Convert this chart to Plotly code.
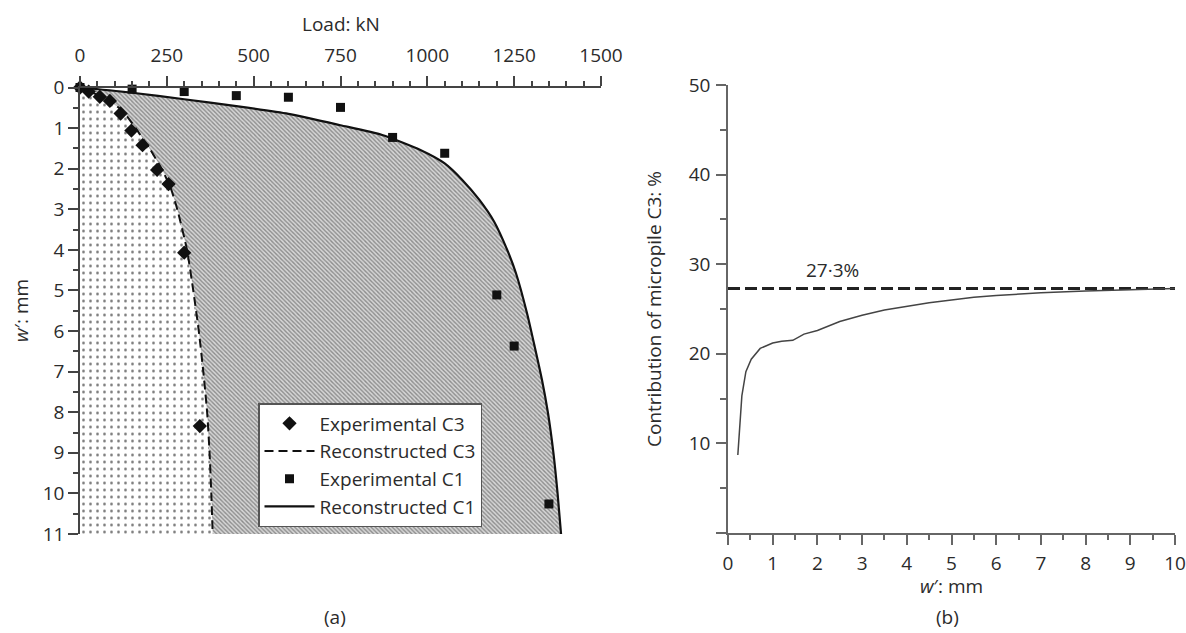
import plotly.graph_objects as go

W, H = 1186, 633
FONT = "Open Sans"
TXT = "#2b2b2b"
FS = 19

# ---- Panel (a): load-settlement ----
exp_c3_load = [0, 25, 57, 86, 117, 148, 180, 222, 255, 300, 345]
exp_c3_w = [0, 0.10, 0.23, 0.33, 0.64, 1.06, 1.42, 2.03, 2.38, 4.07, 8.34]

rec_c3_w = [0, 0.1, 0.3, 0.6, 1.0, 1.5, 2.0, 2.5, 3.0, 4.0, 5.0, 6.0, 7.0, 8.0, 9.0, 10.0, 11.0]
rec_c3_load = [0, 28, 80, 125, 160, 200, 235, 262, 280, 308, 326, 342, 355, 366, 373, 378, 382]

exp_c1_load = [0, 150, 300, 450, 600, 750, 900, 1050, 1200, 1250, 1350]
exp_c1_w = [0, 0.04, 0.10, 0.20, 0.24, 0.49, 1.23, 1.62, 5.11, 6.37, 10.26]

rec_c1_load = [0, 150, 300, 450, 600, 750, 870, 980, 1050, 1100, 1150, 1192, 1230, 1255, 1287, 1309, 1330, 1347, 1363, 1375, 1385]
rec_c1_w = [0, 0.13, 0.29, 0.46, 0.65, 0.93, 1.17, 1.54, 1.87, 2.27, 2.77, 3.3, 4.0, 4.57, 5.56, 6.38, 7.2, 8.0, 9.0, 10.0, 11.0]

load_ticks = [0, 250, 500, 750, 1000, 1250, 1500]
w_ticks_a = list(range(0, 12))

# ---- Panel (b): contribution of C3 ----
contrib_w = [0.22, 0.31, 0.40, 0.52, 0.72, 1.0, 1.2, 1.45, 1.7, 2.0, 2.5, 3.0, 3.5, 4.0, 4.5, 5.0, 5.5, 6.0, 7.0, 8.0, 9.0, 10.0]
contrib_pct = [8.7, 15.3, 18.0, 19.4, 20.6, 21.2, 21.4, 21.5, 22.2, 22.6, 23.6, 24.3, 24.9, 25.3, 25.7, 26.0, 26.3, 26.5, 26.8, 27.0, 27.15, 27.3]
asymptote = 27.3
w_ticks_b = list(range(0, 11))
pct_ticks = [0, 10, 20, 30, 40, 50]
pct_labels = ["", "10", "20", "30", "40", "50"]

fig = go.Figure()

SPL = dict(shape="spline", smoothing=0.6)

# fills
fig.add_trace(go.Scatter(
    x=rec_c3_load, y=rec_c3_w, mode="lines", line=dict(width=0, **SPL),
    fill="tozerox", fillcolor="rgba(0,0,0,0)",
    fillpattern=dict(shape=".", size=7, solidity=0.12, fgcolor="#6a6a6a", bgcolor="white"),
    showlegend=False, hoverinfo="skip", xaxis="x", yaxis="y"))
fig.add_trace(go.Scatter(
    x=rec_c1_load, y=rec_c1_w, mode="lines", line=dict(width=0, **SPL),
    fill="tonextx", fillcolor="rgba(0,0,0,0)",
    fillpattern=dict(shape="\\", size=3, solidity=0.45, fgcolor="#8c8c8c", bgcolor="#d6d6d6"),
    showlegend=False, hoverinfo="skip", xaxis="x", yaxis="y"))

# lines and markers (legend order: Exp C3, Rec C3, Exp C1, Rec C1)
fig.add_trace(go.Scatter(
    x=exp_c3_load, y=exp_c3_w, mode="markers", name="Experimental C3",
    marker=dict(symbol="diamond", size=11, color="#111"),
    cliponaxis=False, xaxis="x", yaxis="y"))
fig.add_trace(go.Scatter(
    x=rec_c3_load, y=rec_c3_w, mode="lines", name="Reconstructed C3",
    line=dict(color="#111", width=2, dash="9px,5px", **SPL),
    xaxis="x", yaxis="y"))
fig.add_trace(go.Scatter(
    x=exp_c1_load, y=exp_c1_w, mode="markers", name="Experimental C1",
    marker=dict(symbol="square", size=9, color="#111"),
    cliponaxis=False, xaxis="x", yaxis="y"))
fig.add_trace(go.Scatter(
    x=rec_c1_load, y=rec_c1_w, mode="lines", name="Reconstructed C1",
    line=dict(color="#111", width=2.2, **SPL),
    xaxis="x", yaxis="y"))

# panel b
fig.add_trace(go.Scatter(
    x=[w_ticks_b[0], w_ticks_b[-1]], y=[asymptote, asymptote], mode="lines",
    line=dict(color="#222", width=3, dash="12px,5px"), showlegend=False,
    xaxis="x2", yaxis="y2"))
fig.add_trace(go.Scatter(
    x=contrib_w, y=contrib_pct, mode="lines",
    line=dict(color="#444", width=1.5), showlegend=False,
    xaxis="x2", yaxis="y2"))

axis_common = dict(showgrid=False, zeroline=False, showline=True, automargin=False,
                   linecolor="#444", linewidth=1.5, ticks="outside",
                   ticklen=10, tickwidth=1.5, tickcolor="#444",
                   tickfont=dict(family=FONT, size=FS, color=TXT))
axis_b = {**axis_common, "linecolor": "#666", "tickcolor": "#666"}


def px_x(p):
    return p / W


def px_y(p):
    return 1 - p / H


def label(text, x, y, angle=0):
    return dict(text=text, x=px_x(x), y=px_y(y), xref="paper", yref="paper",
                xanchor="center", yanchor="middle", showarrow=False,
                textangle=angle, font=dict(size=FS))


fig.update_layout(
    template="none",
    width=W, height=H,
    margin=dict(l=0, r=0, t=0, b=0, pad=0, autoexpand=False),
    paper_bgcolor="white", plot_bgcolor="rgba(0,0,0,0)",
    font=dict(family=FONT, size=FS, color=TXT),
    xaxis=dict(domain=[px_x(80), px_x(601)], side="top", range=[0, 1500],
               tickvals=load_ticks, anchor="y", ticklabelstandoff=6,
               minor=dict(dtick=50, ticklen=5, tickwidth=1.5, tickcolor="#444", ticks="outside"),
               **axis_common),
    yaxis=dict(domain=[px_y(534), px_y(87.5)], range=[11, 0],
               tickvals=w_ticks_a, anchor="x",
               minor=dict(dtick=0.5, ticklen=5, tickwidth=1.5, tickcolor="#444", ticks="outside"),
               **axis_common),
    xaxis2=dict(domain=[px_x(728), px_x(1175)], range=[0, 10],
                tickvals=w_ticks_b, anchor="y2", ticklabelstandoff=2,
                minor=dict(dtick=0.5, ticklen=5, tickwidth=1.5, tickcolor="#666", ticks="outside"),
                **axis_b),
    yaxis2=dict(domain=[px_y(533), px_y(85)], range=[0, 50],
                tickvals=pct_ticks, ticktext=pct_labels, anchor="x2", ticklabelstandoff=2,
                minor=dict(dtick=5, ticklen=6, tickwidth=1.5, tickcolor="#666", ticks="outside"),
                **axis_b),
    showlegend=True,
    legend=dict(x=px_x(258), y=px_y(403), xanchor="left", yanchor="top",
                traceorder="normal", itemwidth=50,
                bgcolor="white", bordercolor="#555", borderwidth=1.5,
                font=dict(family=FONT, size=FS, color=TXT), tracegroupgap=0),
    annotations=[
        label("Load: kN", 341, 24),
        label("<i>w</i>′: mm", 21, 311, -90),
        label("(a)", 335, 617),
        label("Contribution of micropile C3: %", 654, 309, -90),
        label("<i>w</i>′: mm", 951, 586),
        label("(b)", 947, 617),
        dict(text="27·3%", x=2.33, y=asymptote, xref="x2", yref="y2",
             xanchor="center", yanchor="bottom", yshift=3, showarrow=False,
             font=dict(size=FS)),
    ],
)

fig.write_html("out.html")
